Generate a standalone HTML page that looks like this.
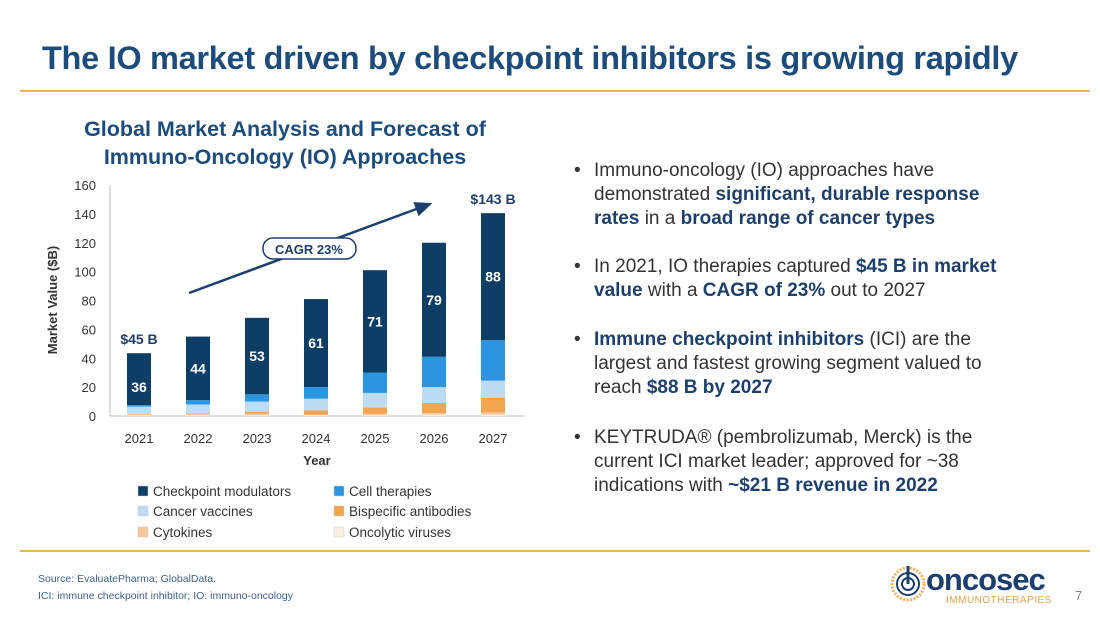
<!DOCTYPE html>
<html><head><meta charset="utf-8"><style>
body{margin:0;width:1100px;height:619px;background:#fff;font-family:"Liberation Sans",sans-serif;position:relative;overflow:hidden}
.t{position:absolute}
.title{left:42px;top:40px;font-size:32.5px;font-weight:bold;color:#1c4c7c;letter-spacing:-0.3px;white-space:nowrap}
.rule{position:absolute;left:20px;width:1070px;height:2px;background:#f0b060}
.ct{left:65px;top:115px;width:440px;text-align:center;font-size:21.5px;font-weight:bold;color:#1c4c7c;line-height:28px}
.bul{left:574px;font-size:19px;color:#333;line-height:24px;white-space:nowrap}
.bul b{color:#1c3f6e}
.bul:before{content:"•";position:absolute;left:0}
.bul span{display:block;padding-left:20px}
.src{left:38px;font-size:10.5px;color:#3a5f8a}
</style></head><body>
<div class="t title">The IO market driven by checkpoint inhibitors is growing rapidly</div>
<div class="rule" style="top:90px"></div>
<div class="t ct">Global Market Analysis and Forecast of<br>Immuno-Oncology (IO) Approaches</div>
<svg class="t" style="left:0;top:0" width="560" height="550" id="chart"></svg>
<div class="t bul" style="top:159px"><span>Immuno-oncology (IO) approaches have<br>demonstrated <b>significant, durable response<br>rates</b> in a <b>broad range of cancer types</b></span></div>
<div class="t bul" style="top:255px"><span>In 2021, IO therapies captured <b>$45 B in market<br>value</b> with a <b>CAGR of 23%</b> out to 2027</span></div>
<div class="t bul" style="top:328px"><span><b>Immune checkpoint inhibitors</b> (ICI) are the<br>largest and fastest growing segment valued to<br>reach <b>$88 B by 2027</b></span></div>
<div class="t bul" style="top:426px"><span>KEYTRUDA® (pembrolizumab, Merck) is the<br>current ICI market leader; approved for ~38<br>indications with <b>~$21 B revenue in 2022</b></span></div>
<div class="rule" style="top:550px"></div>
<div class="t src" style="top:573px">Source: EvaluatePharma; GlobalData.</div>
<div class="t src" style="top:590px">ICI: immune checkpoint inhibitor; IO: immuno-oncology</div>
<div class="t" style="left:888px;top:564px">
<svg width="42" height="42" style="position:absolute;left:0;top:0"><circle cx="20" cy="20" r="16" fill="none" stroke="#f0b060" stroke-width="3" stroke-dasharray="2 1.5"/><circle cx="20" cy="20" r="11" fill="none" stroke="#1c3f6e" stroke-width="2"/><circle cx="20" cy="20" r="6" fill="none" stroke="#1c3f6e" stroke-width="2"/><line x1="20" y1="2" x2="20" y2="20" stroke="#1c3f6e" stroke-width="3"/></svg>
<div style="position:absolute;left:38px;top:-2px;font-size:31px;font-weight:bold;color:#1c3f6e;letter-spacing:-1px">oncosec</div>
<div style="position:absolute;left:58px;top:31px;font-size:10px;color:#e8a050;letter-spacing:0.5px">IMMUNOTHERAPIES</div>
</div>
<div class="t" style="left:1075px;top:588px;font-size:13px;color:#888">7</div>
<script>
const years=["2021","2022","2023","2024","2025","2026","2027"];
const checkpoint=[36,44,53,61,71,79,88];
const cell=[1,3,5,8,14,21,28];
const vaccines=[5,6,7,8,10,11,12];
const bispecific=[0,0.5,1.5,3,4.5,7,10];
const cytokines=[1,1,1,0.5,1,1,1.5];
const oncolytic=[0.5,0.5,0.5,0.5,0.5,1,1];
const yTicks=[0,20,40,60,80,100,120,140,160];
const totalLabels=["$45 B","","","","","","$143 B"];
const series=[["oncolytic-viruses",oncolytic,"#f7efe2"],["cytokines",cytokines,"#f3c79b"],["bispecific-antibodies",bispecific,"#f2a44f"],["cancer-vaccines",vaccines,"#bcdcf3"],["cell-therapies",cell,"#2b95e0"],["checkpoint-modulators",checkpoint,"#0e3d66"]];
const svg=document.getElementById('chart');const NS="http://www.w3.org/2000/svg";
function el(t,a,txt){const e=document.createElementNS(NS,t);for(const k in a)e.setAttribute(k,a[k]);if(txt!==undefined)e.textContent=txt;svg.appendChild(e);return e;}
const y0=416,y1=185,x0=110,step=59,bw=24;
const Y=v=>y0-(v/160)*(y0-y1);const X=i=>139+i*step;
yTicks.forEach(t=>{const e=el('text',{x:96,y:Y(t)+5,'text-anchor':'end','font-size':13,fill:'#333'},t);

});
let ax=el('line',{x1:x0,y1:y1,x2:x0,y2:y0,stroke:'#bbb'});


ax=el('line',{x1:x0,y1:y0,x2:525,y2:y0,stroke:'#bbb'});


years.forEach((yr,i)=>{let base=0;
series.forEach(s=>{const v=s[1][i];const r=el('rect',{x:X(i)-bw/2,y:Y(base+v),width:bw,height:Y(base)-Y(base+v),fill:s[2]});

base+=v;});
const top=base;
const lab=el('text',{x:X(i),y:Y(checkpoint[i]/2+top-checkpoint[i])+5+(i===0?8:0),'text-anchor':'middle','font-size':14,'font-weight':'bold',fill:'#fff'},checkpoint[i]);


if(totalLabels[i]){const t=el('text',{x:X(i),y:Y(top)-9,'text-anchor':'middle','font-size':14,'font-weight':'bold',fill:'#1c3f6e'},totalLabels[i]);

}
const xl=el('text',{x:X(i),y:443,'text-anchor':'middle','font-size':13,fill:'#333'},yr);

});
let e=el('text',{x:317,y:465,'text-anchor':'middle','font-size':13,'font-weight':'bold',fill:'#333'},'Year');


e=el('text',{x:0,y:0,'text-anchor':'middle','font-size':13,'font-weight':'bold',fill:'#333',transform:'translate(57,300) rotate(-90)'},'Market Value ($B)');


e=el('defs',{});e.innerHTML='<marker id="ah" markerWidth="8" markerHeight="8" refX="6" refY="3" orient="auto"><path d="M0,0 L7,3 L0,6z" fill="#1c3f6e"/></marker>';
e=el('line',{x1:189,y1:293,x2:430,y2:204,stroke:'#1c3f6e','stroke-width':2.5,'marker-end':'url(#ah)'});


e=el('rect',{x:263,y:238,width:93,height:21,rx:10,fill:'#fff',stroke:'#1c3f6e','stroke-width':1.5});


e=el('text',{x:309,y:254,'text-anchor':'middle','font-size':13,'font-weight':'bold',fill:'#1c3f6e'},'CAGR 23%');


const legend=[["Checkpoint modulators","#0e3d66",138,491],["Cell therapies","#2b95e0",334,491],["Cancer vaccines","#bcdcf3",138,511],["Bispecific antibodies","#f2a44f",334,511],["Cytokines","#f3c79b",138,532],["Oncolytic viruses","#f7efe2",334,532]];
legend.forEach(l=>{const r=el('rect',{x:l[2],y:l[3]-5,width:10,height:10,fill:l[1],stroke:'#ccc','stroke-width':0.5});


const t=el('text',{x:l[2]+15,y:l[3]+5,'font-size':13.5,fill:'#333'},l[0]);

});
</script>
</body></html>
